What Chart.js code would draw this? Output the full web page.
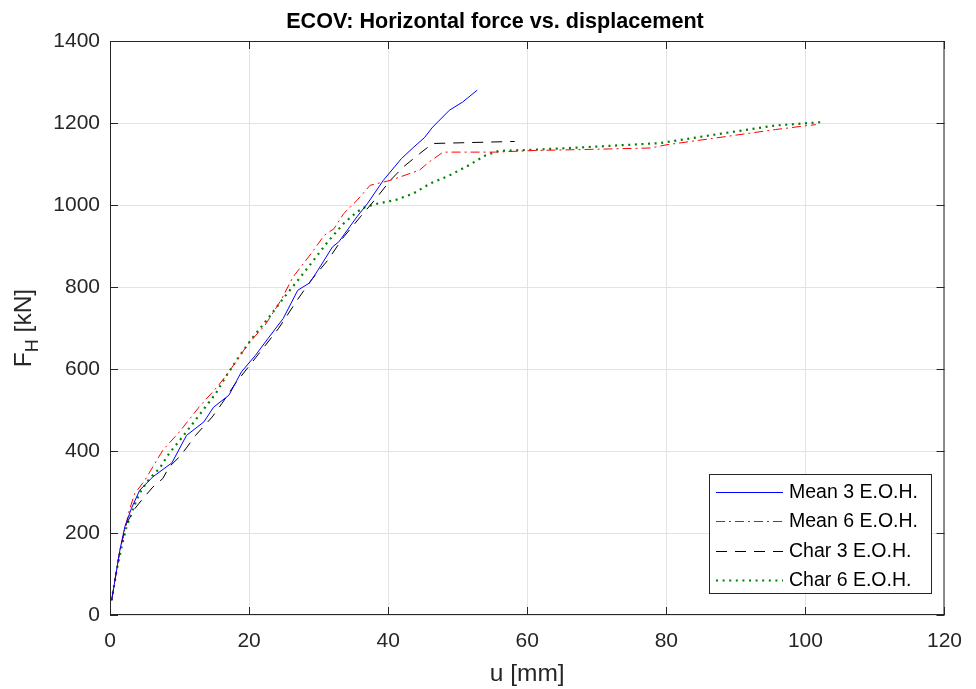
<!DOCTYPE html>
<html>
<head>
<meta charset="utf-8">
<script src="https://cdn.jsdelivr.net/npm/chart.js@4/dist/chart.umd.min.js"></script>
<style>
  html, body { margin: 0; padding: 0; background: #fff; }
  #wrap { width: 976px; height: 689px; }
</style>
</head>
<body>
<div id="wrap"><canvas id="forceChart" width="976" height="689"></canvas></div>
<script>
// data (u in mm, F_H in kN)
const mean3U = [0.24, 0.71, 1.42, 2.13, 3.08, 4.26, 6.16, 8.9, 11.0, 13.5, 14.9, 17.1, 18.9, 20.9, 22.7, 24.9, 27.0, 28.7, 29.9, 32.0, 32.9, 35.5, 37.0, 39.3, 41.9, 43.6, 45.2, 46.4, 48.8, 50.7, 52.8];
const mean3F = [36, 84, 158, 215, 260, 304, 337, 371, 438, 471, 507, 536, 593, 633, 674, 723, 792, 810, 841, 898, 910, 971, 1003, 1060, 1113, 1140, 1164, 1190, 1231, 1251, 1280];

const mean6U = [0.24, 1.42, 2.84, 3.55, 4.98, 7.6, 9.95, 12.8, 15.6, 17.1, 19.9, 22.3, 24.6, 26.3, 28.9, 30.8, 32.2, 33.6, 35.5, 37.4, 38.8, 40.3, 44.5, 45.9, 47.9, 55.4, 61.1, 67.3, 77.7, 80.1, 88.6, 95.7, 99.5, 101.5];
const mean6F = [36, 158, 259, 296, 328, 402, 446, 507, 560, 593, 662, 707, 768, 824, 881, 926, 942, 979, 1011, 1048, 1054, 1060, 1085, 1105, 1129, 1129, 1133, 1135, 1139, 1147, 1167, 1184, 1192, 1196];

const char3U = [0.24, 1.42, 2.37, 3.55, 4.74, 6.16, 7.6, 8.5, 9.95, 11.1, 12.3, 14.7, 16.1, 18.0, 19.9, 21.8, 24.2, 27.0, 28.9, 31.3, 33.6, 36.0, 38.4, 40.3, 42.2, 44.5, 46.4, 58.2];
const char3F = [36, 158, 223, 259, 284, 312, 333, 361, 385, 410, 438, 483, 516, 564, 605, 646, 698, 770, 816, 865, 922, 971, 1019, 1060, 1093, 1125, 1150, 1155];

const char6U = [0.24, 0.95, 1.66, 2.37, 3.08, 3.79, 4.5, 5.7, 7.1, 8.5, 10.4, 12.8, 15.2, 16.6, 18.5, 20.4, 22.7, 25.1, 27.0, 28.9, 31.3, 33.6, 35.5, 36.7, 38.4, 41.2, 43.6, 46.0, 48.8, 51.6, 54.0, 55.9, 61.1, 67.3, 79.1, 88.6, 95.7, 102.3];
const char6F = [36, 109, 166, 215, 247, 280, 304, 333, 357, 394, 434, 487, 540, 580, 629, 674, 723, 776, 816, 857, 910, 955, 983, 995, 1003, 1013, 1028, 1052, 1072, 1097, 1121, 1132, 1135, 1140, 1151, 1176, 1194, 1202];

const seriesNames = ['Mean 3 E.O.H.', 'Mean 6 E.O.H.', 'Char 3 E.O.H.', 'Char 6 E.O.H.'];
const xTicks = [0, 20, 40, 60, 80, 100, 120];
const yTicks = [0, 200, 400, 600, 800, 1000, 1200, 1400];

const FONT = '"Liberation Sans", Arial, Helvetica, sans-serif';
const AXIS_COLOR = '#262626';

// linienstile: farbe, breite, strichmuster
const styles = [
    { color: '#0000ff', width: 1, dash: [] },
    { color: '#ff0000', width: 1, dash: [9, 4, 2, 4] },
    { color: '#000000', width: 1, dash: [11, 8] },
    { color: '#008000', width: 2.2, dash: [2, 4.6] },
];

function pts(us, fs) {
    return us.map((u, i) => ({ x: u, y: fs[i] }));
}

// rahmen, innere ticks, titel, y-achsentitel und legende
const matlabLook = {
    id: 'matlabLook',
    afterDraw(chart) {
        const ctx = chart.ctx;
        const a = chart.chartArea;
        const xs = chart.scales.x, ys = chart.scales.y;
        ctx.save();
        ctx.strokeStyle = AXIS_COLOR;
        ctx.lineWidth = 1;
        ctx.setLineDash([]);
        ctx.strokeRect(a.left + 0.5, a.top + 0.5, a.right - a.left - 1, a.bottom - a.top - 1);
        ctx.beginPath();
        xTicks.forEach(v => {
            const px = Math.round(xs.getPixelForValue(v)) + 0.5;
            ctx.moveTo(px, a.bottom); ctx.lineTo(px, a.bottom - 8);
            ctx.moveTo(px, a.top); ctx.lineTo(px, a.top + 8);
        });
        yTicks.forEach(v => {
            const py = Math.round(ys.getPixelForValue(v)) + 0.5;
            ctx.moveTo(a.left, py); ctx.lineTo(a.left + 8, py);
            ctx.moveTo(a.right, py); ctx.lineTo(a.right - 8, py);
        });
        ctx.stroke();

        // titel
        ctx.fillStyle = '#000';
        ctx.font = 'bold 21.6px ' + FONT;
        ctx.textAlign = 'center';
        ctx.textBaseline = 'alphabetic';
        ctx.fillText('ECOV: Horizontal force vs. displacement', 495, 28);

        // y-achsentitel F_H [kN]
        ctx.fillStyle = AXIS_COLOR;
        ctx.translate(31, (a.top + a.bottom) / 2);
        ctx.rotate(-Math.PI / 2);
        ctx.textAlign = 'left';
        ctx.font = '24.5px ' + FONT;
        const wF = ctx.measureText('F').width;
        ctx.font = '18px ' + FONT;
        const wH = ctx.measureText('H').width;
        ctx.font = '24.5px ' + FONT;
        const wRest = ctx.measureText(' [kN]').width;
        let x0 = -(wF + wH + wRest) / 2;
        ctx.fillText('F', x0, 0);
        ctx.font = '18px ' + FONT;
        ctx.fillText('H', x0 + wF, 7);
        ctx.font = '24.5px ' + FONT;
        ctx.fillText(' [kN]', x0 + wF + wH, 0);
        ctx.restore();

        // legende
        ctx.save();
        const bx = 709, by = 474, bw = 222, bh = 119;
        ctx.fillStyle = '#fff';
        ctx.fillRect(bx, by, bw, bh);
        ctx.strokeStyle = AXIS_COLOR;
        ctx.lineWidth = 1;
        ctx.strokeRect(bx + 0.5, by + 0.5, bw, bh);
        ctx.font = '19.5px ' + FONT;
        ctx.textBaseline = 'middle';
        ctx.textAlign = 'left';
        seriesNames.forEach((name, i) => {
            const st = styles[i];
            const yy = Math.round(492 + i * 29.3);
            ctx.strokeStyle = st.color;
            ctx.lineWidth = st.width;
            ctx.lineDashOffset = 0;
            ctx.setLineDash(st.dash);
            ctx.beginPath();
            ctx.moveTo(716, yy + 0.5);
            ctx.lineTo(783, yy + 0.5);
            ctx.stroke();
            ctx.setLineDash([]);
            ctx.fillStyle = '#000';
            ctx.fillText(name, 789, yy + 1);
        });
        ctx.restore();
    }
};

const uArrays = [mean3U, mean6U, char3U, char6U];
const fArrays = [mean3F, mean6F, char3F, char6F];

new Chart(document.getElementById('forceChart'), {
    type: 'scatter',
    data: {
        datasets: seriesNames.map((name, i) => ({
            label: name,
            data: pts(uArrays[i], fArrays[i]),
            borderColor: styles[i].color,
            borderWidth: styles[i].width,
            borderDash: styles[i].dash,
            showLine: true,
            pointRadius: 0,
            pointHoverRadius: 0,
            fill: false,
            tension: 0,
        })),
    },
    options: {
        responsive: false,
        animation: false,
        events: [],
        layout: { padding: { top: 41, right: 22, left: 0, bottom: 0 } },
        plugins: {
            legend: { display: false },
            title: { display: false },
            tooltip: { enabled: false },
        },
        scales: {
            x: {
                type: 'linear',
                min: 0,
                max: 120,
                afterBuildTicks: s => { s.ticks = xTicks.map(v => ({ value: v })); },
                afterFit: s => { s.height = 74; },
                grid: { color: '#e3e3e3', drawTicks: false },
                border: { display: false },
                ticks: { color: AXIS_COLOR, font: { family: FONT, size: 21 }, padding: 14, maxRotation: 0, callback: v => String(v) },
                title: { display: true, text: 'u [mm]', color: AXIS_COLOR, font: { family: FONT, size: 24.5 }, padding: { top: 0, bottom: 0 } },
            },
            y: {
                type: 'linear',
                min: 0,
                max: 1400,
                afterBuildTicks: s => { s.ticks = yTicks.map(v => ({ value: v })); },
                afterFit: s => { s.width = 110; },
                grid: { color: '#e3e3e3', drawTicks: false },
                border: { display: false },
                ticks: { color: AXIS_COLOR, font: { family: FONT, size: 21 }, padding: 10, callback: v => String(v) },
            },
        },
    },
    plugins: [matlabLook],
});
</script>
</body>
</html>
